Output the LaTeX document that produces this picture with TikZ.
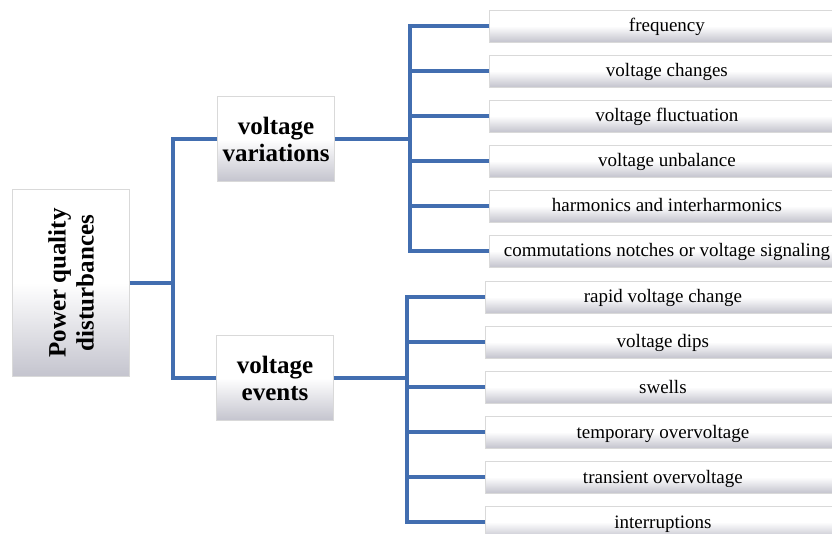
\documentclass[tikz,border=0pt]{standalone}
\usepackage{fontspec}
\setmainfont{Liberation Serif}
\usepackage{xcolor}
\usepackage{tikz}
\usetikzlibrary{positioning}

\definecolor{wireblue}{RGB}{66,110,176}
\definecolor{bevelgray}{RGB}{196,196,206}
\tikzset{
	bevelbox/.style={draw=gray!30, line width=0.8pt, top color=white, bottom color=bevelgray, middle color=white, inner sep=0pt},
	leafbox/.style={bevelbox, minimum width=355pt, minimum height=32pt, text height=15pt, text depth=3pt, anchor=west, font=\fontsize{19}{22}\selectfont},
	groupbox/.style={bevelbox, minimum width=117pt, minimum height=85pt, align=center, font=\fontsize{25}{27}\selectfont\bfseries},
	wire/.style={wireblue, line width=3.5pt}
}

\begin{document}
\begin{tikzpicture}[x=1pt, y=-1pt]
				\useasboundingbox (0, 0) rectangle (832, 534);
				\clip (0, 0) rectangle (832, 534);
				% Boxes:
				\node[bevelbox, rotate=90, minimum width=187pt, minimum height=117pt, align=center, font=\fontsize{25}{28}\selectfont\bfseries](root) at (71, 283){Power quality\\disturbances};
				\node[groupbox](vv) at (276, 139){voltage\\variations};
				\node[groupbox](ve) at (275, 378){voltage\\events};
				\foreach \txt [count=\i] in {frequency, voltage changes, voltage fluctuation, voltage unbalance, harmonics and interharmonics, commutations notches or voltage signaling}
					\node[leafbox](v\i) at (489, 26+45*\i-45){\txt};
				\foreach \txt [count=\i] in {rapid voltage change, voltage dips, swells, temporary overvoltage, transient overvoltage, interruptions}
					\node[leafbox](e\i) at (485, 297+45*\i-45){\txt};
				% Wires:
				\coordinate (trunk) at (173, 283);
				\coordinate (vvbus) at (410, 139);
				\coordinate (vebus) at (407, 378);
				\draw[wire] (root.south) -- (trunk);
				\draw[wire] (vv.west) -| (trunk) |- (ve.west);
				\draw[wire] (vv.east) -- (vvbus);
				\draw[wire] (ve.east) -- (vebus);
				\foreach \i in {1,...,6}{
					\draw[wire] (v\i.west) -| (vvbus);
					\draw[wire] (e\i.west) -| (vebus);
				}
			\end{tikzpicture}
\end{document}
